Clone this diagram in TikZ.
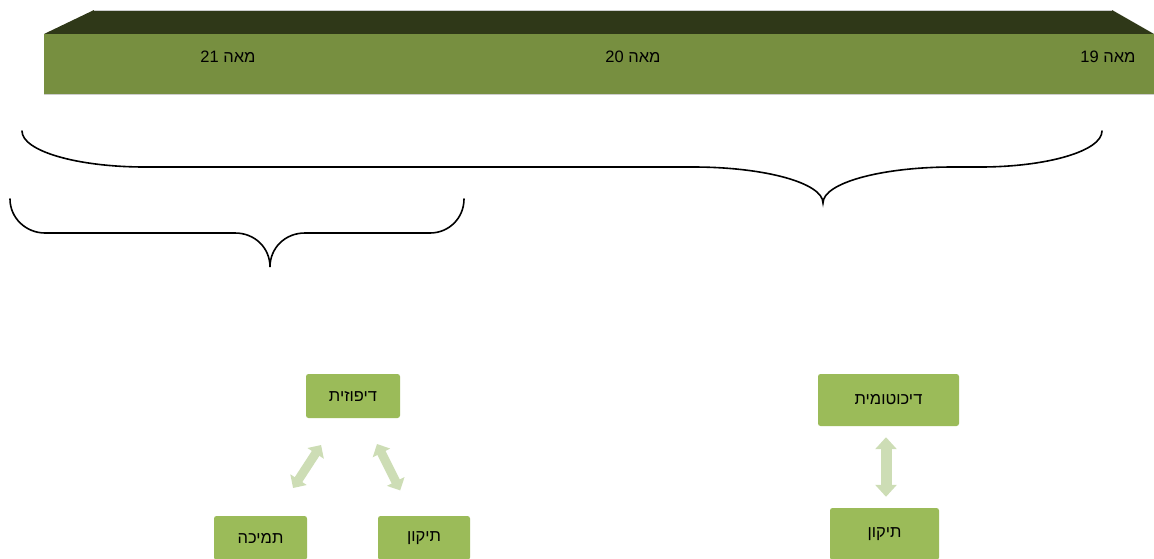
\documentclass[tikz,border=0pt]{standalone}
\usepackage{fontspec}
\usetikzlibrary{arrows.meta,calc}
\TeXXeTstate=1
\newfontfamily\heb[Script=Hebrew]{Liberation Sans}
\definecolor{barfront}{HTML}{778F40}
\definecolor{bartop}{HTML}{2F3818}
\definecolor{boxgreen}{HTML}{9BBB59}
\definecolor{arrgreen}{HTML}{CDDDB5}
\tikzset{
  hebtext/.style={font=\heb\fontsize{16.5}{19}\selectfont, text=black, inner sep=0pt},
  greenbox/.style={hebtext, fill=boxgreen, rounded corners=2.5pt, minimum height=44pt},
  dblarrow/.style={draw=arrgreen, line width=9pt,
    {Triangle[length=10pt 0, width=19pt 0]}-{Triangle[length=10pt 0, width=19pt 0]}},
  bracestyle/.style={draw=black, line width=1.6pt, line cap=round}
}
\begin{document}
\begin{tikzpicture}[x=1pt,y=-1pt]
\useasboundingbox (0,0) rectangle (1154,558);
% timeline bar
\fill[bartop] (44,34) -- (94,10) -- (1112,10) -- (1154,34) -- cycle;
\draw[black!20, line width=0.8pt] (94,10) -- (1112,10);
\fill[barfront] (44,34) rectangle (1154,94);
\draw[black!20, line width=0.8pt] (44,94) -- (1154,94);
\node[hebtext] (c21) at (228,57) {\beginR מאה \beginL21\endL\endR};
\node[hebtext] (c20) at (633,57) {\beginR מאה \beginL20\endL\endR};
\node[hebtext] (c19) at (1108,57) {\beginR מאה \beginL19\endL\endR};
% big brace
\draw[bracestyle] (22,131) .. controls (22,151) and (77,167) .. (145,167)
  -- (693,167) .. controls (765,167) and (823,183) .. (823,203)
  .. controls (823,183) and (881,167) .. (953,167)
  -- (980,167) .. controls (1047,167) and (1102,151) .. (1102,131);
% small brace
\draw[bracestyle] (10,199) .. controls (10,218) and (26,233) .. (45,233)
  -- (235,233) .. controls (255,233) and (270,248) .. (270,267)
  .. controls (270,248) and (285,233) .. (305,233)
  -- (430,233) .. controls (449,233) and (464,218) .. (464,199);
% boxes
\node[greenbox, minimum width=94pt] (dif) at (353,396) {\beginR דיפוזית\endR};
\node[greenbox, minimum width=93pt] (tam) at (260.5,538) {\beginR תמיכה\endR};
\node[greenbox, minimum width=92pt] (tik1) at (424,538) {\beginR תיקון\endR};
\node[greenbox, minimum width=141pt, minimum height=52pt] (dich) at (888.5,400) {\beginR דיכוטומית\endR};
\node[greenbox, minimum width=109pt, minimum height=52pt] (tik2) at (884.5,534) {\beginR תיקון\endR};
% arrows
\draw[dblarrow] ($(dif)!0.345!(tam)$) -- ($(dif)!0.648!(tam)$);
\draw[dblarrow] ($(dif)!0.338!(tik1)$) -- ($(dif)!0.665!(tik1)$);
\draw[dblarrow, line width=11pt,
  {Triangle[length=12pt 0, width=21pt 0]}-{Triangle[length=12pt 0, width=21pt 0]}]
  ($(dich.south)+(-2.5,11)$) -- ($(tik2.north)+(1.5,-11)$);
\end{tikzpicture}
\end{document}
